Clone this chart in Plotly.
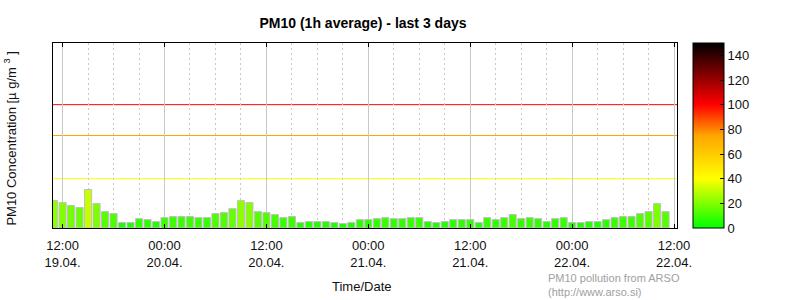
import pandas as pd
import plotly.graph_objects as go

# ---- data ----
start_time = "2024-04-19 11:00"
pm10_values = [22.2, 20.6, 18.2, 16.6, 31.2, 19.8, 13.3, 11.7, 4.4, 4.4, 7.6, 6.8, 5.2,
               8.4, 9.3, 9.3, 9.3, 8.4, 8.4, 11.7, 12.5, 15.7, 22.2, 20.6, 13.3,
               12.5, 10.9, 8.4, 9.3, 4.4, 5.2, 5.2, 5.2, 4.4, 3.6, 4.4, 6.8, 6.8, 7.6,
               8.4, 7.6, 7.6, 8.4, 8.4, 5.2, 4.4, 5.2, 6.8, 6.8, 6.8,
               4.4, 8.4, 6.8, 8.4, 10.9, 7.6, 8.4, 7.6, 5.2, 7.6, 8.4, 4.4, 4.4, 5.2,
               5.2, 6.8, 8.4, 9.3, 9.3, 11.7, 13.3, 19.8, 13.3]
times = pd.date_range(start_time, periods=len(pm10_values), freq="h")

tick_vals = ["2024-04-19 12:00", "2024-04-20 00:00", "2024-04-20 12:00",
             "2024-04-21 00:00", "2024-04-21 12:00", "2024-04-22 00:00",
             "2024-04-22 12:00"]
tick_text = ["12:00<br>19.04.", "00:00<br>20.04.", "12:00<br>20.04.",
             "00:00<br>21.04.", "12:00<br>21.04.", "00:00<br>22.04.",
             "12:00<br>22.04."]
x_range = ["2024-04-19 10:52:12", "2024-04-22 12:21:00"]
y_range = [0, 150]
threshold_values = [100, 75, 40]
threshold_colors = ["#ff0000", "#ffa500", "#ffff00"]
colorbar_ticks = [0, 20, 40, 60, 80, 100, 120, 140]

colorscale = [[0.0, "#00ff00"], [40 / 150, "#ffff00"], [75 / 150, "#ffa500"],
              [100 / 150, "#ff0000"], [1.0, "#000000"]]

FONT = "Liberation Sans, Arial, sans-serif"
PLOT_W = 624.6
PLOT_H = 185.0

fig = go.Figure()
fig.add_trace(go.Bar(
    x=times, y=pm10_values,
    marker=dict(color=pm10_values, colorscale=colorscale, cmin=0, cmax=150,
                line=dict(color="#c0c0c0", width=1),
                showscale=True,
                colorbar=dict(
                    xref="paper", x=(693 - 52.7) / PLOT_W, xanchor="left",
                    yref="paper", y=0, yanchor="bottom",
                    lenmode="fraction", len=1, thicknessmode="pixels", thickness=31,
                    xpad=0, ypad=0,
                    outlinewidth=1, outlinecolor="black",
                    ticks="inside", ticklen=4, tickcolor="black",
                    tickmode="array", tickvals=colorbar_ticks,
                    tickfont=dict(family=FONT, size=13, color="#111"),
                )),
    hoverinfo="skip",
))

for v, c in zip(threshold_values, threshold_colors):
    fig.add_shape(type="line", xref="paper", x0=0, x1=1, yref="y", y0=v, y1=v,
                  line=dict(color=c, width=1), layer="below")

fig.update_layout(
    width=800, height=300,
    margin=dict(l=52.7, r=122.7, t=43.3, b=71.7),
    paper_bgcolor="white", plot_bgcolor="white",
    bargap=0.16, showlegend=False,
    font=dict(family=FONT, size=13, color="#111"),
    title=dict(text="<b>PM10 (1h average) - last 3 days</b>",
               x=363 / 800, xanchor="center", y=1 - 23 / 300, yanchor="middle",
               font=dict(family=FONT, size=14, color="black")),
    xaxis=dict(
        type="date", range=x_range,
        tickmode="array", tickvals=tick_vals, ticktext=tick_text,
        ticks="inside", ticklen=4, tickcolor="black",
        ticklabelstandoff=5,
        showline=True, linecolor="black", linewidth=1, mirror="ticks",
        showgrid=True, gridcolor="#c8c8c8", gridwidth=1,
        minor=dict(tick0="2024-04-19 12:00", dtick=3 * 3600 * 1000,
                   showgrid=True, gridcolor="#c8c8c8", griddash="2px,3px", gridwidth=1),
        tickfont=dict(family=FONT, size=13, color="#111"),
        zeroline=False,
    ),
    yaxis=dict(
        range=y_range, showticklabels=False, showgrid=False, zeroline=False,
        showline=True, linecolor="black", linewidth=1, mirror=True, ticks="",
    ),
    annotations=[
        dict(text="PM10 Concentration [µ g/m <sup>3</sup> ]", textangle=-90,
             xref="paper", x=(10 - 52.7) / PLOT_W, yref="paper", y=0.485,
             xanchor="center", yanchor="middle", showarrow=False,
             font=dict(family=FONT, size=13, color="#111")),
        dict(text="Time/Date", xref="paper", x=(361 - 52.7) / PLOT_W,
             yref="paper", y=-(287 - 228.3) / PLOT_H, xanchor="center", yanchor="middle",
             showarrow=False, font=dict(family=FONT, size=13, color="#111")),
        dict(text="PM10 pollution from ARSO<br>(http://www.arso.si)", align="left",
             xref="paper", x=(546 - 52.7) / PLOT_W, xanchor="left",
             yref="paper", y=-(285 - 228.3) / PLOT_H, yanchor="middle",
             showarrow=False, font=dict(family=FONT, size=11, color="#a0a0a0")),
    ],
)

fig.write_html("out.html")
